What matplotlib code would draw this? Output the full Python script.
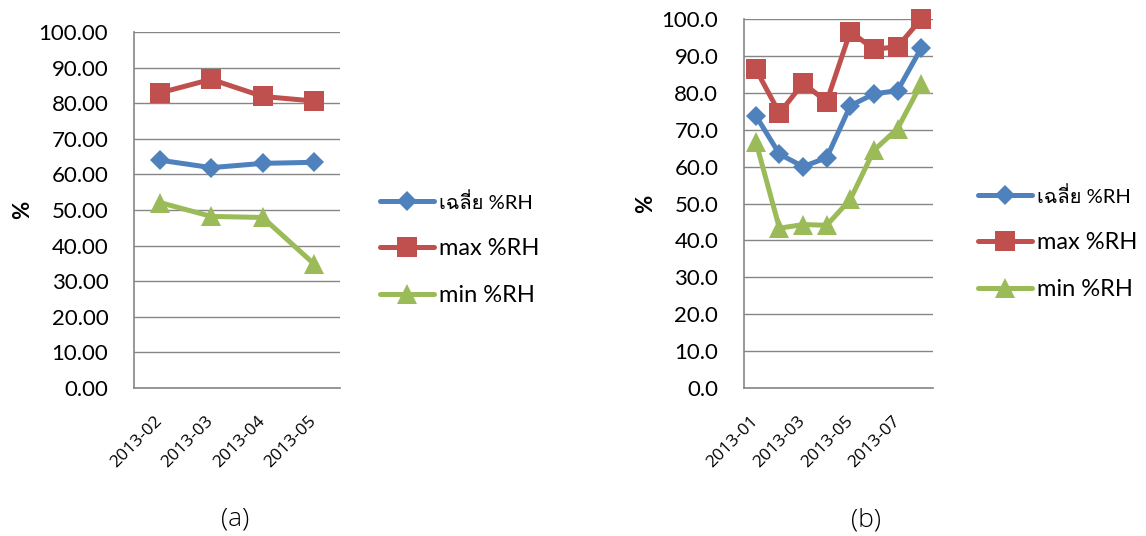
import matplotlib
matplotlib.use("Agg")
import matplotlib.pyplot as plt
from matplotlib.ticker import FixedLocator, FuncFormatter

plt.rcParams['font.family'] = ['Lato', 'Loma', 'DejaVu Sans']

# ---- data -------------------------------------------------------------
series_names = ['เฉลี่ย %RH', 'max %RH', 'min %RH']

a_months = ['2013-02', '2013-03', '2013-04', '2013-05']
a_avg = [64.0, 61.9, 63.1, 63.4]
a_max = [82.9, 86.7, 81.9, 80.6]
a_min = [52.1, 48.2, 47.9, 34.8]

b_months = ['2013-01', '2013-02', '2013-03', '2013-04',
            '2013-05', '2013-06', '2013-07', '2013-08']
b_avg = [73.8, 63.4, 60.0, 62.4, 76.5, 79.7, 80.6, 92.1]
b_max = [86.4, 74.5, 82.6, 77.6, 96.6, 91.8, 92.5, 100.0]
b_min = [66.8, 43.3, 44.3, 44.1, 51.1, 64.4, 70.3, 82.4]

y_ticks = [0, 10, 20, 30, 40, 50, 60, 70, 80, 90, 100]

# ---- style ------------------------------------------------------------
colors = ['#4F81BD', '#C0504D', '#9BBB59']
markers = ['D', 's', '^']
msizes = [10.5, 14.4, 13.7]
grid_c = '#868686'
W, H = 1146, 536

fig = plt.figure(figsize=(W / 100, H / 100), dpi=100)


def px_axes(x0, y0, x1, y1):
    return fig.add_axes([x0 / W, 1 - y1 / H, (x1 - x0) / W, (y1 - y0) / H])


def draw_panel(ax, months, series, decimals, label_step):
    n = len(months)
    xs = list(range(n))
    for vals, c, m, ms, name in zip(series, colors, markers, msizes, series_names):
        ax.plot(xs, vals, color=c, lw=3.6, marker=m, markersize=ms,
                markeredgewidth=0, solid_joinstyle='round',
                solid_capstyle='round', label=name, clip_on=False, zorder=3)
    ax.set_xlim(-0.5, n - 0.5)
    ax.set_ylim(0, 100)
    ax.yaxis.set_major_locator(FixedLocator(y_ticks))
    ax.yaxis.set_major_formatter(FuncFormatter(lambda v, p: f'{v:.{decimals}f}'))
    ax.grid(axis='y', color=grid_c, lw=1.0)
    ax.set_axisbelow(True)
    for s in ('top', 'right'):
        ax.spines[s].set_visible(False)
    for s in ('left', 'bottom'):
        ax.spines[s].set_color(grid_c)
        ax.spines[s].set_linewidth(1.2)
    tick_pos = xs[::label_step]
    ax.set_xticks(tick_pos)
    ax.set_xticklabels([months[i] for i in tick_pos], rotation=45, ha='right',
                       va='center', rotation_mode='anchor',
                       fontsize=12.5, family=['Open Sans', 'DejaVu Sans'])
    ax.tick_params(axis='x', length=0, pad=22)
    ax.tick_params(axis='y', length=0, pad=18.5, labelsize=16)
    ax.set_ylabel('%', fontsize=16, fontweight='bold', labelpad=4)


legend_kw = dict(frameon=False, fontsize=17, handlelength=2.3,
                 handletextpad=0.2, labelspacing=1.1, borderpad=0,
                 borderaxespad=0, numpoints=1, bbox_transform=fig.transFigure,
                 loc='center left')


def add_legend(ax, anchor):
    leg = ax.legend(bbox_to_anchor=anchor, **legend_kw)
    # the Thai label is set a little smaller than the others
    leg.get_texts()[0].set_fontsize(14.5)
    return leg


# panel (a)
ax_a = px_axes(134, 32, 340, 388)
draw_panel(ax_a, a_months, [a_avg, a_max, a_min], 2, 1)
add_legend(ax_a, (380 / W, 1 - 249 / H))

# panel (b)
ax_b = px_axes(744, 19, 933, 388)
draw_panel(ax_b, b_months, [b_avg, b_max, b_min], 1, 2)
add_legend(ax_b, (978 / W, 1 - 243 / H))

fig.text(235 / W, 1 - 519 / H, '(a)', ha='center', va='center',
         fontsize=19, family=['Open Sans', 'DejaVu Sans'], fontweight='light')
fig.text(866 / W, 1 - 520 / H, '(b)', ha='center', va='center',
         fontsize=19, family=['Open Sans', 'DejaVu Sans'], fontweight='light')

fig.savefig('out.png', dpi=100)
